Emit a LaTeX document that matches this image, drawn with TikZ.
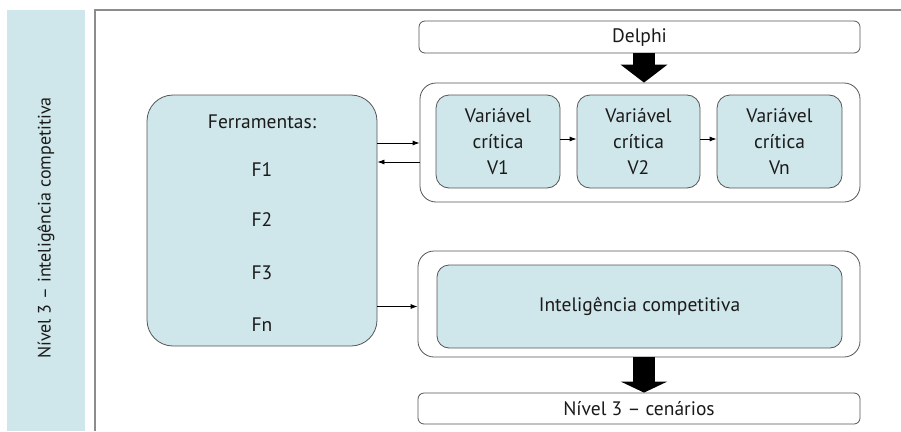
\documentclass[tikz,border=0pt]{standalone}
\usepackage{fontspec}
\setmainfont{PT Sans}
\usetikzlibrary{arrows.meta,calc}
\definecolor{bandc}{HTML}{CFE6EA}
\definecolor{boxc}{HTML}{CFE6EA}
\definecolor{edgec}{HTML}{555555}
\definecolor{framec}{HTML}{8C8C8C}
\definecolor{txtc}{HTML}{1A1A1A}
\tikzset{
  lbl/.style={font=\fontsize{19.5}{26}\selectfont, text=txtc, inner sep=0pt},
  bluebox/.style={draw=edgec, fill=boxc, line width=0.8pt, inner sep=0pt},
  whitebox/.style={draw=edgec, fill=white, line width=0.8pt, inner sep=0pt},
  conn/.style={draw=black, line width=0.8pt, -{Latex[length=7pt,width=5pt]}},
  bigarrow/.style={draw=black, line width=22pt}
}
\begin{document}
\begin{tikzpicture}[x=1pt,y=-1pt]
\useasboundingbox (0,0) rectangle (901,431);
% side band
\node[fill=bandc, minimum width=78pt, minimum height=421pt, inner sep=0pt] (band) at (46,220.5) {};
\node[lbl, font=\fontsize{18}{22}\selectfont, rotate=90] (bandtext) at (46,228) {Nível 3 – inteligência competitiva};
% frame
\coordinate (fr1) at (901,10);
\coordinate (fr2) at (95,10);
\coordinate (fr3) at (95,431);
\draw[framec, line width=1.2pt] (fr1) -- (fr2) -- (fr3);
% boxes
\node[whitebox, rounded corners=6pt, minimum width=441pt, minimum height=32pt] (delphi) at (639.5,37) {};
\node[lbl] (delphitext) at (639.5,38) {Delphi};
\node[whitebox, rounded corners=16pt, minimum width=440pt, minimum height=119pt] (top) at (640,142.5) {};
\node[bluebox, rounded corners=13pt, minimum width=124pt, minimum height=93pt, align=center, lbl] (v1) at (498,141.5) {Variável\\crítica\\V1};
\node[bluebox, rounded corners=13pt, minimum width=123pt, minimum height=93pt, align=center, lbl] (v2) at (638.5,141.5) {Variável\\crítica\\V2};
\node[bluebox, rounded corners=13pt, minimum width=125pt, minimum height=93pt, align=center, lbl] (vn) at (779.5,141.5) {Variável\\crítica\\Vn};
\node[bluebox, rounded corners=26pt, minimum width=230pt, minimum height=251pt] (ferr) at (262,220.5) {};
\node[lbl] (ft) at (262,122) {Ferramentas:};
\node[lbl] (f1) at (262,170) {F1};
\node[lbl] (f2) at (262,220) {F2};
\node[lbl] (f3) at (262,273) {F3};
\node[lbl] (fn) at (262,325) {Fn};
\node[whitebox, rounded corners=16pt, minimum width=442pt, minimum height=106pt] (bot) at (639,304) {};
\node[bluebox, rounded corners=12pt, minimum width=405pt, minimum height=83pt, lbl] (ic) at (639.5,306.5) {Inteligência competitiva};
\node[whitebox, rounded corners=6pt, minimum width=442pt, minimum height=31pt, lbl] (cen) at (639,408.5) {Nível 3 – cenários};
% connectors
\coordinate (ya) at (0,143);
\coordinate (yb) at (0,162);
\draw[conn] (ferr.east |- ya) -- (top.west |- ya);
\draw[conn] (top.west |- yb) -- (ferr.east |- yb);
\draw[conn] (ferr.east |- ic.center) -- (bot.west |- ic.center);
\draw[conn] (v1.east |- 0,139) -- (v2.west |- 0,139);
\draw[conn] (v2.east |- 0,139) -- (vn.west |- 0,139);
% big arrows
\draw[bigarrow, -{Triangle[width=46pt,length=18pt]}] (delphi.south -| 644,0) -- (top.north -| 644,0);
\draw[bigarrow, -{Triangle[width=46pt,length=11pt]}] (bot.south -| 644,0) -- (cen.north -| 644,0);
\end{tikzpicture}
\end{document}
